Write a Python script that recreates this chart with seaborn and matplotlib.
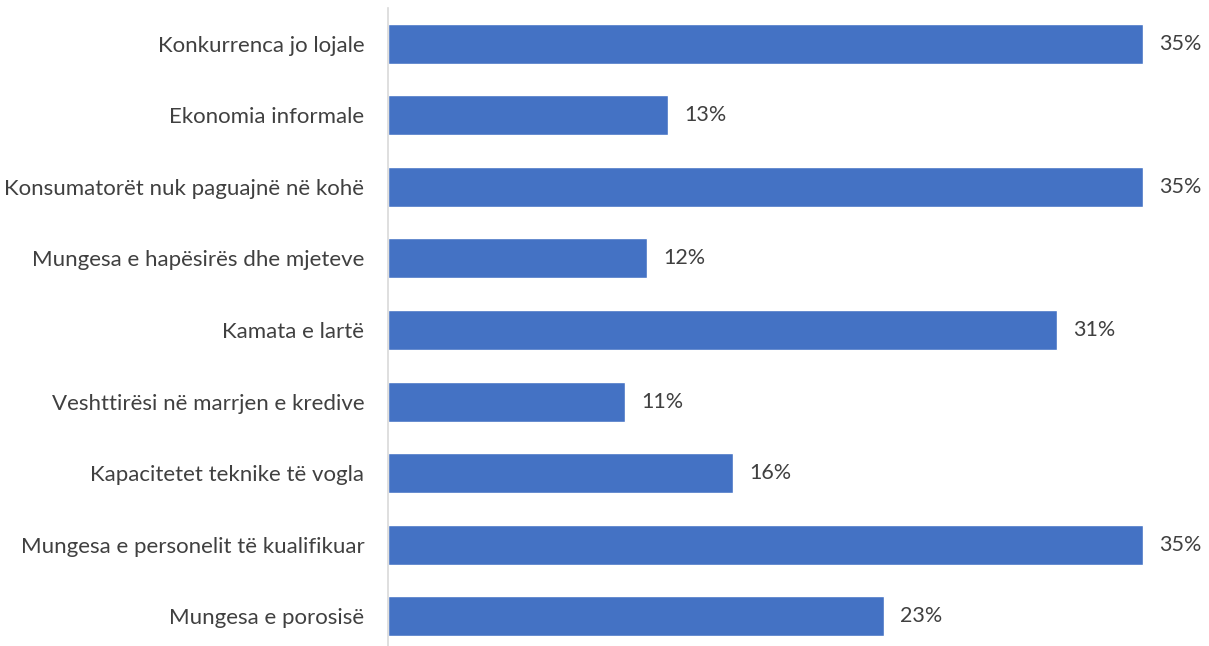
import matplotlib
matplotlib.use("Agg")
import matplotlib.pyplot as plt
import seaborn as sns
import pandas as pd

# values
categories = [
    "Konkurrenca jo lojale",
    "Ekonomia informale",
    "Konsumatorët nuk paguajnë në kohë",
    "Mungesa e hapësirës dhe mjeteve",
    "Kamata e lartë",
    "Veshttirësi në marrjen e kredive",
    "Kapacitetet teknike të vogla",
    "Mungesa e personelit të kualifikuar",
    "Mungesa e porosisë",
]
values = [35, 13, 35, 12, 31, 11, 16, 35, 23]

df = pd.DataFrame({"category": categories, "value": values})

sns.set_style("white")
plt.rcParams["font.family"] = ["Lato", "DejaVu Sans"]

fig = plt.figure(figsize=(12.09, 6.46), dpi=100)
ax = fig.add_axes([388 / 1209, -6 / 646, 821 / 1209, 644 / 646])

sns.barplot(x="value", y="category", data=df, orient="h", color="#4472C4",
            saturation=1, width=0.56, ax=ax)

ax.set_xlim(0, 38.06)
ax.set_ylim(8.5, -0.5)
for i, v in enumerate(values):
    ax.text(v + 0.75, i, f"{v}%", va="center", ha="left", fontsize=15.5, color="#404040")

ax.set_xlabel("")
ax.set_ylabel("")
ax.set_xticks([])
ax.tick_params(axis="y", length=0, pad=17, labelsize=16, labelcolor="#404040")
for side in ["top", "right", "bottom"]:
    ax.spines[side].set_visible(False)
ax.spines["left"].set_color("#D9D9D9")
ax.spines["left"].set_linewidth(1.2)

fig.savefig("out.png", dpi=100)
